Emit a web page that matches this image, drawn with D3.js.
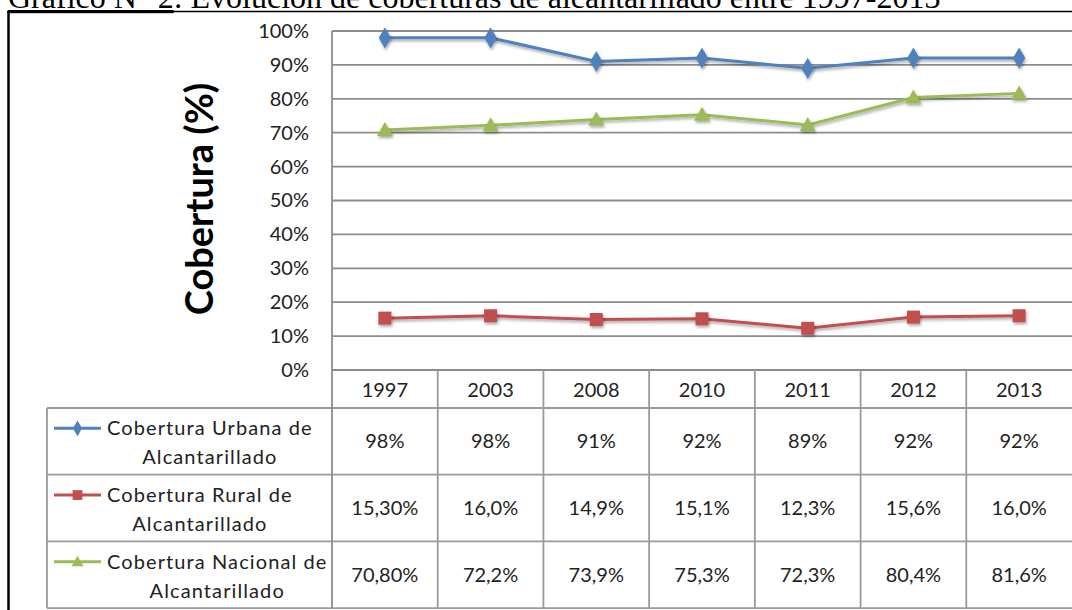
<!DOCTYPE html>
<html>
<head>
<meta charset="utf-8">
<script src="https://cdn.jsdelivr.net/npm/d3@7"></script>
<style>
  body { margin: 0; background: #fff; }
  svg { display: block; }
</style>
</head>
<body>
<div id="app"></div>
<script>
// chart data
const years = ['1997', '2003', '2008', '2010', '2011', '2012', '2013']
const urbana = [98, 98, 91, 92, 89, 92, 92]
const rural = [15.3, 16.0, 14.9, 15.1, 12.3, 15.6, 16.0]
const nacional = [70.8, 72.2, 73.9, 75.3, 72.3, 80.4, 81.6]
const urbanaLabels = ['98%', '98%', '91%', '92%', '89%', '92%', '92%']
const ruralLabels = ['15,30%', '16,0%', '14,9%', '15,1%', '12,3%', '15,6%', '16,0%']
const nacionalLabels = ['70,80%', '72,2%', '73,9%', '75,3%', '72,3%', '80,4%', '81,6%']
const yTicks = [0, 10, 20, 30, 40, 50, 60, 70, 80, 90, 100]

const width = 1072
const height = 610
const font = 'Lato, "Noto Sans", sans-serif'

// series table built from the arrays above
const series = [
  { name: ['Cobertura Urbana de', 'Alcantarillado'], values: urbana, labels: urbanaLabels, color: '#4f81bd', marker: 'diamond' },
  { name: ['Cobertura Rural de', 'Alcantarillado'], values: rural, labels: ruralLabels, color: '#c0504d', marker: 'square' },
  { name: ['Cobertura Nacional de', 'Alcantarillado'], values: nacional, labels: nacionalLabels, color: '#9bbb59', marker: 'triangle' },
]

const svg = d3.select('#app').append('svg').attr('width', width).attr('height', height)

// drop shadow for the markers
const defs = svg.append('defs')
const shadow = defs.append('filter').attr('id', 'shadow').attr('x', '-50%').attr('y', '-50%').attr('width', '200%').attr('height', '200%')
shadow.append('feDropShadow').attr('dx', 1).attr('dy', 2).attr('stdDeviation', 1.4).attr('flood-color', '#000').attr('flood-opacity', 0.35)

// title (cut off at the top, as in the document)
const title = svg.append('text')
  .attr('x', 8).attr('y', 8)
  .attr('font-family', '"Liberation Serif", "Times New Roman", serif')
  .attr('font-size', 32)
  .attr('fill', '#000')
title.append('tspan').attr('text-decoration', 'underline').text('Gráfico N° 2')
title.append('tspan').text(': Evolución de coberturas de alcantarillado entre 1997-2013')

// outer frame of the chart
svg.append('line').attr('x1', 7).attr('x2', width).attr('y1', 11.5).attr('y2', 11.5).attr('stroke', '#000').attr('stroke-width', 1.5)
svg.append('line').attr('x1', 8.5).attr('x2', 8.5).attr('y1', 11).attr('y2', height).attr('stroke', '#000').attr('stroke-width', 2.5)

// scales
const x = d3.scaleBand().domain(years).range([332, 1072])
const y = d3.scaleLinear().domain([0, 100]).range([370, 31])

const gridColor = '#8c8c8c'
const tableColor = '#9a9a9a'

// gridlines
svg.append('g')
  .selectAll('line')
  .data(yTicks)
  .join('line')
  .attr('x1', x.range()[0]).attr('x2', x.range()[1])
  .attr('y1', (d) => y(d)).attr('y2', (d) => y(d))
  .attr('stroke', gridColor).attr('stroke-width', 1.8)

// y axis labels
const yAxis = d3.axisLeft(y).tickValues(yTicks).tickFormat((d) => d + '%').tickSize(0).tickPadding(23)
const yAxisG = svg.append('g').attr('transform', `translate(${x.range()[0]},0)`).call(yAxis)
yAxisG.select('.domain').remove()
yAxisG.selectAll('text').attr('font-family', font).attr('font-size', 20).attr('fill', '#222')

// y axis title
svg.append('text')
  .attr('transform', 'translate(213,199) rotate(-90)')
  .attr('text-anchor', 'middle')
  .attr('font-family', font)
  .attr('font-weight', 'bold')
  .attr('font-size', 38)
  .attr('fill', '#000')
  .text('Cobertura (%)')

// data table geometry
const tableLeft = 47
const headerBottom = 408
const rowH = 66.7
const rowTop = (i) => headerBottom + i * rowH

// table lines
const tg = svg.append('g').attr('stroke', tableColor).attr('stroke-width', 1.8)
tg.append('line').attr('x1', tableLeft).attr('x2', width).attr('y1', headerBottom).attr('y2', headerBottom)
series.forEach((s, i) => {
  tg.append('line').attr('x1', tableLeft).attr('x2', width).attr('y1', rowTop(i + 1)).attr('y2', rowTop(i + 1))
})
tg.append('line').attr('x1', tableLeft).attr('x2', tableLeft).attr('y1', headerBottom).attr('y2', rowTop(3))
tg.selectAll('line.col')
  .data(years.slice(1))
  .join('line')
  .attr('class', 'col')
  .attr('x1', (d) => x(d)).attr('x2', (d) => x(d))
  .attr('y1', y(0)).attr('y2', rowTop(3))
// left edge of plot area
svg.append('line').attr('x1', x.range()[0]).attr('x2', x.range()[0]).attr('y1', y(100)).attr('y2', rowTop(3))
  .attr('stroke', gridColor).attr('stroke-width', 1.8)

// year headers
svg.append('g')
  .selectAll('text')
  .data(years)
  .join('text')
  .attr('x', (d) => x(d) + x.bandwidth() / 2)
  .attr('y', 397)
  .attr('text-anchor', 'middle')
  .attr('font-family', font).attr('font-size', 20).attr('fill', '#222')
  .text((d) => d)

// marker shapes
function drawMarker(sel, type, color) {
  if (type === 'diamond') {
    sel.append('path').attr('d', d3.symbol(d3.symbolDiamond, 130)()).attr('fill', color)
  } else if (type === 'square') {
    sel.append('rect').attr('x', -6.5).attr('y', -6.5).attr('width', 13).attr('height', 13).attr('fill', color)
  } else {
    sel.append('path').attr('d', 'M0,-8L8,6L-8,6Z').attr('fill', color)
  }
}

const line = d3.line().x((d, i) => x(years[i]) + x.bandwidth() / 2).y((d) => y(d))

series.forEach((s, si) => {
  // line + markers
  svg.append('path')
    .datum(s.values)
    .attr('d', line)
    .attr('fill', 'none')
    .attr('stroke', s.color)
    .attr('stroke-width', 3)
    .attr('filter', 'url(#shadow)')

  svg.append('g')
    .selectAll('g')
    .data(s.values)
    .join('g')
    .attr('transform', (d, i) => `translate(${x(years[i]) + x.bandwidth() / 2},${y(d)})`)
    .attr('filter', 'url(#shadow)')
    .each(function () { drawMarker(d3.select(this), s.marker, s.color) })

  // table row
  const cy = rowTop(si) + rowH / 2
  svg.append('g')
    .selectAll('text')
    .data(s.labels)
    .join('text')
    .attr('x', (d, i) => x(years[i]) + x.bandwidth() / 2)
    .attr('y', cy + 7)
    .attr('text-anchor', 'middle')
    .attr('font-family', font).attr('font-size', 20).attr('fill', '#222')
    .text((d) => d)

  // legend key inside the table
  const key = svg.append('g').attr('transform', `translate(0,${cy - 13})`)
  key.append('line').attr('x1', 54).attr('x2', 101).attr('y1', 0).attr('y2', 0).attr('stroke', s.color).attr('stroke-width', 3)
  const mk = key.append('g').attr('transform', 'translate(77.5,0) scale(0.75)')
  drawMarker(mk, s.marker, s.color)

  const first = key.append('text')
    .attr('x', 107).attr('y', 7)
    .attr('font-family', font).attr('font-size', 20).attr('fill', '#222')
    .attr('letter-spacing', 1.1)
    .text(s.name[0])
  const w = first.node().getComputedTextLength()
  key.append('text')
    .attr('x', 107 + w / 2).attr('y', 36)
    .attr('text-anchor', 'middle')
    .attr('font-family', font).attr('font-size', 20).attr('fill', '#222')
    .attr('letter-spacing', 1.1)
    .text(s.name[1])
})
</script>
</body>
</html>
